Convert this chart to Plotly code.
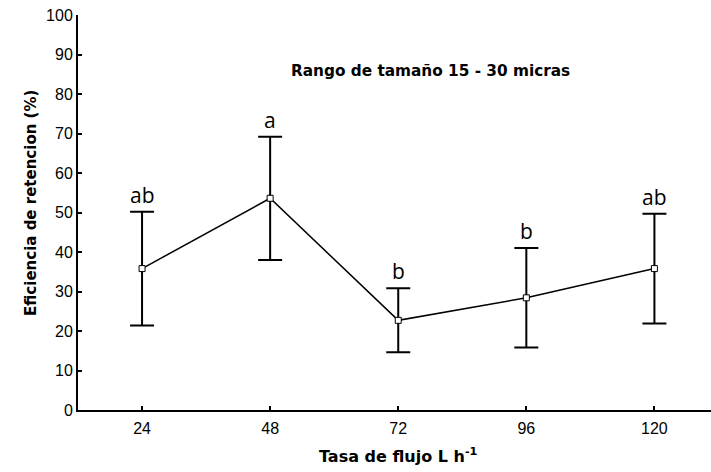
import plotly.graph_objects as go

flow = [24, 48, 72, 96, 120]
mean_eff = [35.8, 53.6, 22.7, 28.4, 35.8]
err_eff = [14.4, 15.6, 8.1, 12.6, 13.9]
letters = ["ab", "a", "b", "b", "ab"]
y_ticks = [0, 10, 20, 30, 40, 50, 60, 70, 80, 90, 100]

W, H = 711, 472
L, R, T, B = 78, 0, 15, 62
pw, ph = W - L - R, H - T - B

fig = go.Figure()
fig.add_trace(go.Scatter(
    x=flow, y=mean_eff, mode="lines+markers",
    line=dict(color="black", width=1.5),
    marker=dict(symbol="square", size=6, color="white", line=dict(color="black", width=1)),
    error_y=dict(type="data", array=err_eff, visible=True, color="black", thickness=2, width=12),
    showlegend=False,
))

for x, m, e, t in zip(flow, mean_eff, err_eff, letters):
    fig.add_annotation(x=x, y=m + e, text=t, showarrow=False, yanchor="bottom",
                       yshift=1, font=dict(family="Open Sans, Liberation Sans", size=21, color="black"))

title_font = "DejaVu Sans, Liberation Sans, Arial"
fig.add_annotation(x=(431 - L) / pw, y=(H - B - 60) / ph, xref="paper", yref="paper",
                   text="<b>Rango de tamaño 15 - 30 micras</b>", showarrow=False,
                   font=dict(family=title_font, size=15.3, color="black"))
fig.add_annotation(x=(20 - L) / pw, y=(H - B - 203) / ph, xref="paper", yref="paper",
                   text="<b>Eficiencia de retencion (%)</b>", showarrow=False, textangle=-90,
                   font=dict(family=title_font, size=15, color="black"))
fig.add_annotation(x=(398 - L) / pw, y=(H - B - 468) / ph, xref="paper", yref="paper",
                   text="<b>Tasa de flujo L h<sup>-1</sup></b>", showarrow=False,
                   font=dict(family=title_font, size=16, color="black"))

fig.update_layout(
    width=W, height=H,
    margin=dict(l=L, r=R, t=T, b=B),
    plot_bgcolor="white", paper_bgcolor="white",
    font=dict(family="Liberation Sans, Arial", color="black"),
)

fig.update_xaxes(
    range=[12, 130.6], tickvals=flow, ticks="inside", ticklen=4, tickwidth=1.5, tickcolor="black",
    showline=True, linecolor="black", linewidth=2, showgrid=False, zeroline=False,
    tickfont=dict(size=16), ticklabelstandoff=3,
)
fig.update_yaxes(
    range=[0, 100], tickvals=y_ticks, ticks="inside", ticklen=4, tickwidth=1.5, tickcolor="black",
    showline=True, linecolor="black", linewidth=2, showgrid=False, zeroline=False,
    tickfont=dict(size=16),
)

fig.write_html("out.html")
